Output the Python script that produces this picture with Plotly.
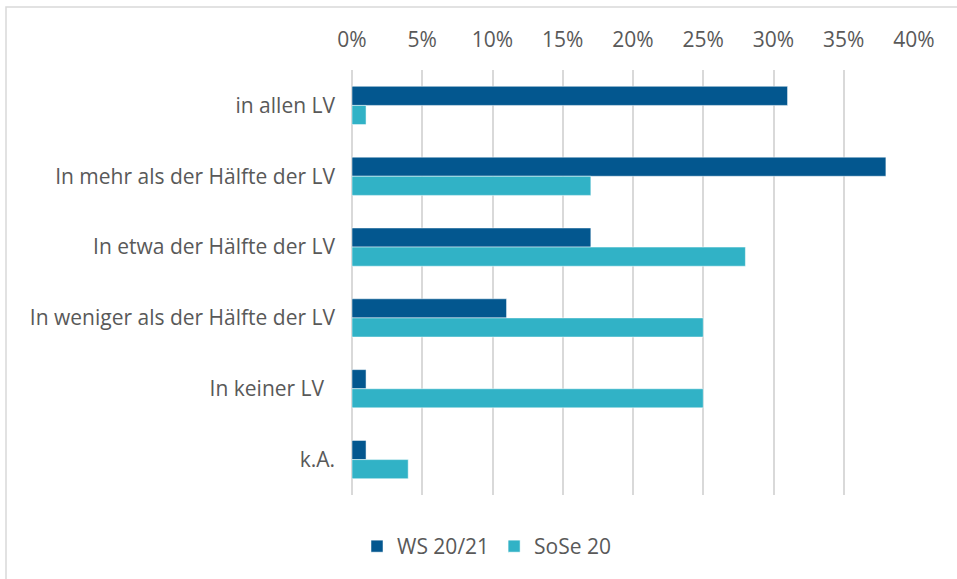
import plotly.graph_objects as go

categories = ["in allen LV", "In mehr als der Hälfte der LV", "In etwa der Hälfte der LV",
              "In weniger als der Hälfte der LV", "In keiner LV\u00a0\u00a0", "k.A."]
ws_2021 = [0.31, 0.38, 0.17, 0.11, 0.01, 0.01]
sose_20 = [0.01, 0.17, 0.28, 0.25, 0.25, 0.04]
tick_vals = [0, 0.05, 0.10, 0.15, 0.20, 0.25, 0.30, 0.35, 0.40]

font_family = "'Open Sans', sans-serif"
txt = "#595959"
fs = 21

L, R, T, B = 352, 43, 70, 84
W, H = 957, 579
pw, ph = W - L - R, H - T - B

fig = go.Figure()
fig.add_trace(go.Bar(y=categories, x=ws_2021, name="WS 20/21", orientation="h",
                     marker=dict(color="#03578F", line=dict(color="#ffffff", width=0.5))))
fig.add_trace(go.Bar(y=categories, x=sose_20, name="SoSe 20", orientation="h",
                     marker=dict(color="#31B2C6", line=dict(color="#ffffff", width=0.5))))

fig.update_layout(
    width=W, height=H,
    paper_bgcolor="white", plot_bgcolor="white",
    margin=dict(l=L, r=R, t=T, b=B, autoexpand=False),
    barmode="group", bargap=0.46, bargroupgap=0,
    font=dict(family=font_family, size=fs, color=txt),
    showlegend=True,
    legend=dict(orientation="h", x=(357 - L) / pw, xanchor="left", y=-(526 - (T + ph)) / ph, yanchor="top",
                font=dict(size=fs, color=txt), traceorder="normal", itemwidth=30),
    xaxis=dict(side="top", range=[0, 0.40], tickvals=tick_vals, tickformat=".0%",
               showgrid=True, gridcolor="#D9D9D9", gridwidth=1.5,
               zeroline=True, zerolinecolor="#D9D9D9", zerolinewidth=1.5,
               showline=False, ticks="", ticklabelstandoff=18, automargin=False,
               tickfont=dict(size=fs, color=txt)),
    yaxis=dict(autorange="reversed", showgrid=False, zeroline=False, showline=False,
               ticks="", ticklabelstandoff=16, automargin=False,
               tickfont=dict(size=fs, color=txt)),
    shapes=[dict(type="rect", xref="paper", yref="paper",
                 x0=-(L - 6) / pw, x1=(W + 10 - L) / pw,
                 y0=-(H + 10 - (T + ph)) / ph, y1=1 + (T - 7) / ph,
                 line=dict(color="#D9D9D9", width=1.5), fillcolor="rgba(0,0,0,0)", layer="below")],
)

fig.write_html("out.html", config={"displayModeBar": False},
               post_script="document.body.style.margin='0';document.body.style.padding='0';")
